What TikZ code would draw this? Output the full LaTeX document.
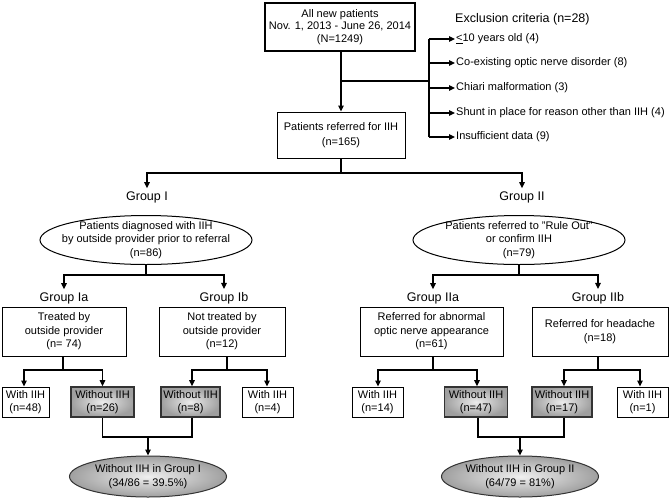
\documentclass[tikz,border=0pt]{standalone}
\usepackage{fontspec}
\setmainfont{Liberation Sans}
\usetikzlibrary{shapes.geometric,arrows.meta}
\begin{document}
\begin{tikzpicture}[x=1pt,y=-1pt,
  every node/.style={font=\fontsize{11}{13.5}\selectfont, align=center},
  box/.style={draw, line width=1pt, minimum height=49, inner sep=1pt},
  sbox/.style={draw, line width=1pt, minimum height=30, inner sep=1pt},
  gbox/.style={draw=black!80, line width=1.6pt, minimum height=30, inner sep=1pt,
    inner color=gray!15, outer color=gray!75},
  gell/.style={ellipse, draw=black!80, line width=1pt, minimum width=157, minimum height=41, inner sep=0pt,
    inner color=gray!12, outer color=gray!75},
  oell/.style={ellipse, draw, line width=1pt, minimum width=212, minimum height=49, inner sep=0pt},
  head/.style={font=\fontsize{12.5}{15}\selectfont, inner sep=3pt},
  exc/.style={anchor=west, inner sep=1pt},
  conn/.style={line width=1.2pt},
  arr/.style={line width=1.2pt, -{Triangle[length=6pt,width=5.5pt]}}
]
\useasboundingbox (0,0) rectangle (670,499);

% top
\node[draw, line width=2.6pt, minimum width=150, minimum height=48, inner sep=1pt,
  font=\fontsize{11}{12.5}\selectfont] (top) at (340,27)
  {All new patients\\Nov. 1, 2013 - June 26, 2014\\(N=1249)};
\node[box, minimum width=128, minimum height=46, font=\fontsize{11}{15}\selectfont] (ref) at (341,135)
  {Patients referred for IIH\\(n=165)};
\draw[arr] (top.south -| ref.north) -- (ref.north);

% exclusion
\node[head, anchor=west, inner sep=0pt] (exh) at (455,19) {Exclusion criteria (n=28)};
\coordinate (ex) at (429,81);
\node[exc] (x1) at (455,39) {\underline{<}10 years old (4)};
\node[exc] (x2) at (455,63) {Co-existing optic nerve disorder (8)};
\node[exc] (x3) at (455,88) {Chiari malformation (3)};
\node[exc] (x4) at (455,113) {Shunt in place for reason other than IIH (4)};
\node[exc] (x5) at (455,137) {Insufficient data (9)};
\draw[conn] (ref.north |- ex) -- (ex);
\draw[conn] (ex |- x1.west) -- (ex |- x5.west);
\foreach \i in {1,...,5} \draw[arr] (ex |- x\i.west) -- (x\i.west);

% groups
\coordinate (j0) at (341,173);
\node[head] (gI) at (147,197) {Group I};
\node[head] (gII) at (522,197) {Group II};
\draw[conn] (ref.south) -- (j0);
\draw[arr] (j0) -| (gI.north);
\draw[arr] (j0) -| (gII.north);

\node[oell] (e1) at (146,240) {};
\node at (e1.center) {Patients diagnosed with IIH\\by outside provider prior to referral\\(n=86)};
\node[oell] (e2) at (519,240) {};
\node at (e2.center) {Patients referred to "Rule Out"\\or confirm IIH\\(n=79)};

% subgroups
\node[head] (gIa) at (64,298) {Group Ia};
\node[head] (gIb) at (224,298) {Group Ib};
\node[head] (gIIa) at (433,298) {Group IIa};
\node[head] (gIIb) at (598,298) {Group IIb};
\coordinate (j1) at (146,275);
\coordinate (j2) at (519,275);
\draw[conn] (e1.south) -- (j1);
\draw[arr] (j1) -| (gIa.north);
\draw[arr] (j1) -| (gIb.north);
\draw[conn] (e2.south) -- (j2);
\draw[arr] (j2) -| (gIIa.north);
\draw[arr] (j2) -| (gIIb.north);

\node[box, minimum width=124] (Ia) at (64,331.5) {Treated by\\outside provider\\(n= 74)};
\node[box, minimum width=126] (Ib) at (222,331.5) {Not treated by\\outside provider\\(n=12)};
\node[box, minimum width=143] (IIa) at (431.5,331.5) {Referred for abnormal\\optic nerve appearance\\(n=61)};
\node[box, minimum width=136] (IIb) at (600,331.5) {Referred for headache\\(n=18)};

% leaves
\node[sbox, minimum width=47] (w48) at (25.5,402) {With IIH\\(n=48)};
\node[gbox, minimum width=63] (o26) at (102.5,402) {Without IIH\\(n=26)};
\node[gbox, minimum width=59] (o8) at (190.5,402) {Without IIH\\(n=8)};
\node[sbox, minimum width=51] (w4) at (267.5,402) {With IIH\\(n=4)};
\node[sbox, minimum width=51] (w14) at (377.5,402) {With IIH\\(n=14)};
\node[gbox, minimum width=63] (o47) at (476,402) {Without IIH\\(n=47)};
\node[gbox, minimum width=60] (o17) at (562,402) {Without IIH\\(n=17)};
\node[sbox, minimum width=51] (w1) at (642.5,402) {With IIH\\(n=1)};

\coordinate (k1) at (63,370);
\coordinate (k2) at (227,370);
\coordinate (k3) at (433,370);
\coordinate (k4) at (598,370);
\draw[conn] (Ia.south -| k1) -- (k1);
\draw[arr] (k1) -| (w48.north -| 24,0);
\draw[arr] (k1) -| (o26.north);
\draw[conn] (Ib.south -| k2) -- (k2);
\draw[arr] (k2) -| (o8.north -| 192,0);
\draw[arr] (k2) -| (w4.north -| 267,0);
\draw[conn] (IIa.south -| k3) -- (k3);
\draw[arr] (k3) -| (w14.north -| 378,0);
\draw[arr] (k3) -| (o47.north -| 477,0);
\draw[conn] (IIb.south -| k4) -- (k4);
\draw[arr] (k4) -| (o17.north -| 564,0);
\draw[arr] (k4) -| (w1.north -| 640,0);

% totals
\node[gell] (t1) at (148,476.5) {};
\node at (t1.center) {Without IIH in Group I\\(34/86 = 39.5\%)};
\node[gell] (t2) at (520,476.5) {};
\node at (t2.center) {Without IIH in Group II\\(64/79 = 81\%)};
\coordinate (m1) at (148,437);
\coordinate (m2) at (520,437);
\draw[conn] (o26.south) |- (m1);
\draw[conn] (o8.south -| 192,0) |- (m1);
\draw[arr] (m1) -- (t1.north);
\draw[conn] (o47.south -| 478,0) |- (m2);
\draw[conn] (o17.south -| 564,0) |- (m2);
\draw[arr] (m2) -- (t2.north);
\end{tikzpicture}
\end{document}
